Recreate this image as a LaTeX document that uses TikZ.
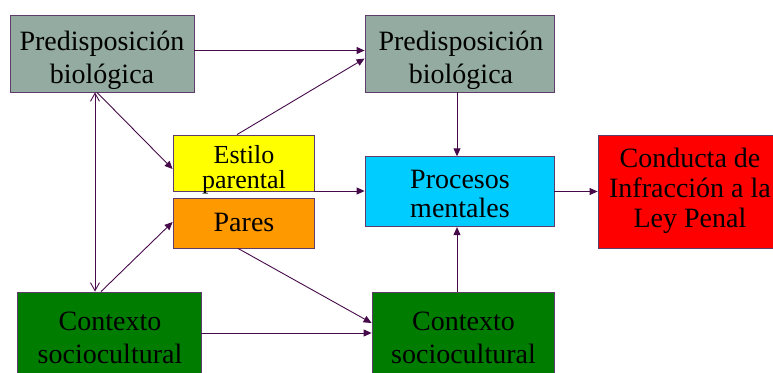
\documentclass[tikz,border=0pt]{standalone}
\usepackage{fontspec}
\setmainfont{Liberation Serif}
\usetikzlibrary{arrows.meta}
\definecolor{edgec}{RGB}{70,10,75}
\definecolor{bordc}{RGB}{95,60,105}
\definecolor{pbfill}{RGB}{147,171,160}
\definecolor{estfill}{RGB}{255,255,0}
\definecolor{parfill}{RGB}{255,153,0}
\definecolor{profill}{RGB}{0,204,255}
\definecolor{confill}{RGB}{255,0,0}
\definecolor{csfill}{RGB}{0,125,0}
\newcommand{\lns}[1]{\begin{tabular}[t]{@{}c@{}}#1\end{tabular}}
\begin{document}
\begin{tikzpicture}[x=1pt,y=-1pt,
  box/.style={draw=bordc, line width=0.8pt, inner sep=0pt, rectangle},
  txt/.style={inner sep=0pt, anchor=base, text=black},
  big/.style={font=\fontsize{28}{33}\selectfont},
  arr/.style={draw=edgec, line width=0.9pt, -{Triangle[length=8pt,width=7pt]}},
  openboth/.style={draw=edgec, line width=0.9pt, {Straight Barb[length=8pt,width=9pt]}-{Straight Barb[length=8pt,width=9pt]}}]
\useasboundingbox (0,0) rectangle (773,372);
\clip (0,0) rectangle (773,372);
% boxes
\node[box, fill=pbfill, minimum width=184pt, minimum height=77pt] (pb1) at (102,53.5) {};
\node[box, fill=pbfill, minimum width=189.5pt, minimum height=77pt] (pb2) at (459.75,53.5) {};
\node[box, fill=estfill, minimum width=141pt, minimum height=56pt] (est) at (243.5,163) {};
\node[box, fill=parfill, minimum width=141pt, minimum height=50pt] (par) at (243.5,223) {};
\node[box, fill=profill, minimum width=189pt, minimum height=70pt] (pro) at (459.5,191.7) {};
\node[box, fill=confill, minimum width=186pt, minimum height=113pt] (con) at (691,191.5) {};
\node[box, fill=csfill, minimum width=184pt, minimum height=88pt] (cs1) at (109,336) {};
\node[box, fill=csfill, minimum width=182pt, minimum height=88pt] (cs2) at (463,336) {};
% texts
\node[txt, big] (pb1t) at (102,50) {\lns{Predisposición\\biológica}};
\node[txt, big] (pb2t) at (461,50) {\lns{Predisposición\\biológica}};
\node[txt, font=\fontsize{26}{24}\selectfont] (estt) at (244,163) {\lns{Estilo\\parental}};
\node[txt, big] (part) at (244,231) {Pares};
\node[txt, font=\fontsize{28}{29}\selectfont] (prot) at (460,188) {\lns{Procesos\\mentales}};
\node[txt, font=\fontsize{28}{30}\selectfont] (cont) at (690,167) {\lns{Conducta de\\Infracción a la\\Ley Penal}};
\node[txt, big] (cs1t) at (110,330) {\lns{Contexto\\sociocultural}};
\node[txt, big] (cs2t) at (463.5,330) {\lns{Contexto\\sociocultural}};
% connectors
\draw[arr] (pb1.east |- 0,50.5) -- (pb2.west |- 0,50.5);
\draw[arr] (est.north -| 237,0) -- (pb2.west |- 0,58.5);
\draw[arr] (pb1.south -| 97,0) -- (est.west |- 0,169);
\draw[openboth] (pb1.south -| 95,0) -- (cs1.north -| 95,0);
\draw[arr] (cs1.north -| 101,0) -- (par.west |- 0,222);
\draw[arr] (est.east |- 0,191) -- (pro.west |- 0,191);
\draw[arr] (par.south -| 238,0) -- (cs2.west |- 0,323);
\draw[arr] (cs1.east |- 0,333) -- (cs2.west |- 0,333);
\draw[arr] (cs2.north -| 457,0) -- (pro.south -| 457,0);
\draw[arr] (pb2.south -| 457,0) -- (pro.north -| 457,0);
\draw[arr] (pro.east |- 0,191.5) -- (con.west |- 0,191.5);
\end{tikzpicture}
\end{document}
